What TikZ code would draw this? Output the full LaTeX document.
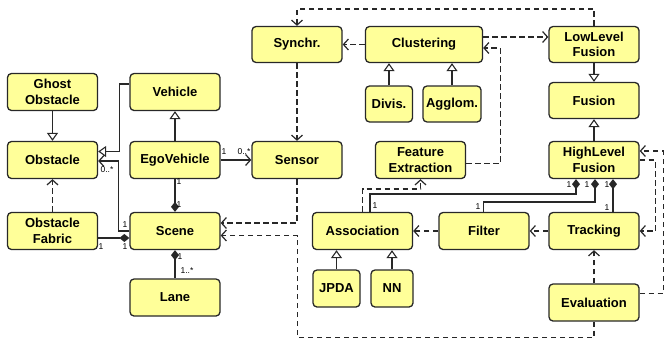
\documentclass[tikz,border=0pt]{standalone}
\usepackage{fontspec}
\setmainfont{Liberation Sans}
\usetikzlibrary{arrows.meta}
\definecolor{boxfill}{RGB}{255,255,153}
\definecolor{boxline}{RGB}{40,40,40}
\begin{document}
\begin{tikzpicture}[x=1pt,y=-1pt,
  cls/.style={draw=boxline, fill=boxfill, line width=1.3pt, rounded corners=4pt, minimum width=90pt, minimum height=37pt, inner sep=0pt, align=center, font=\fontsize{13}{15.5}\selectfont\bfseries},
  inh/.style={line width=1.3pt, draw=boxline, -{Triangle[open,length=8pt,width=11pt,fill=white,line width=1.1pt]}},
  dep/.style={line width=1.3pt, draw=boxline, dash pattern=on 5.5pt off 3.5pt, -{Straight Barb[length=5pt,width=11pt,line width=1.2pt]}},
  asc/.style={line width=1.3pt, draw=boxline, -{Straight Barb[length=5pt,width=11pt,line width=1.2pt]}},
  comp/.style={line width=1.3pt, draw=boxline, {Diamond[length=10pt,width=8pt]}-},
  mult/.style={font=\fontsize{8.5}{9}\selectfont, inner sep=0pt}
]
\useasboundingbox (0,0) rectangle (664,338);
% classes
\node[cls] (ghost) at (52.5,92) {Ghost\\Obstacle};
\node[cls] (obst) at (52.5,160) {Obstacle};
\node[cls] (fabric) at (52.5,231) {Obstacle\\Fabric};
\node[cls] (vehicle) at (175,92) {Vehicle};
\node[cls] (ego) at (175,160) {EgoVehicle};
\node[cls] (scene) at (175,231) {Scene};
\node[cls] (lane) at (175,297.5) {Lane};
\node[cls] (sensor) at (297,160) {Sensor};
\node[cls, minimum height=36pt] (synchr) at (297,44.5) {Synchr.};
\node[cls, minimum width=117pt, minimum height=36pt] (clust) at (424,44.5) {Clustering};
\node[cls, minimum width=47pt, minimum height=36pt] (divis) at (389,104) {Divis.};
\node[cls, minimum width=58pt, minimum height=36pt] (agglom) at (452,104) {Agglom.};
\node[cls] (feat) at (420.5,160) {Feature\\Extraction};
\node[cls, minimum height=36pt] (llf) at (594,44.5) {LowLevel\\Fusion};
\node[cls, minimum height=36pt] (fusion) at (594,100.5) {Fusion};
\node[cls] (hlf) at (594,160) {HighLevel\\Fusion};
\node[cls, minimum width=100pt] (assoc) at (362.5,231) {Association};
\node[cls] (filter) at (484,231) {Filter};
\node[cls] (tracking) at (594,231) {Tracking};
\node[cls, minimum width=47pt] (jpda) at (336.5,288.5) {JPDA};
\node[cls, minimum width=42pt] (nn) at (392,288.5) {NN};
\node[cls] (eval) at (594,302.5) {Evaluation};
% left part
\draw[inh] (ghost.south) -- (obst.north);
\draw[inh] ([yshift=8pt]vehicle.west) -- ++(-10,0) |- ([yshift=8.5pt]obst.east);
\draw[asc] (scene.west) -- ++(-11,0) |- ([yshift=-1pt]obst.east);
\draw[comp] ([yshift=-7pt]scene.west) -- ([yshift=-7pt]scene.west -| fabric.east);
\draw[dep] (fabric.north) -- (obst.south);
\draw[inh] (ego.north) -- (vehicle.south);
\draw[asc] (ego.east) -- (sensor.west);
\draw[comp] (scene.north) -- (ego.south);
\draw[comp] (scene.south) -- (lane.north);
\draw[dep] (sensor.south) |- ([yshift=8pt]scene.east);
\draw[dep] (eval.south) -- ++(0,16) -| ([xshift=77pt,yshift=-4.5pt]scene.east) -- ([yshift=-4.5pt]scene.east);
% top part
\draw[dep] (synchr.south) -- (sensor.north);
\draw[dep] (clust.west) -- (synchr.east);
\draw[inh] (divis.north) -- (divis.north |- clust.south);
\draw[inh] (agglom.north) -- (agglom.north |- clust.south);
\draw[dep] (llf.north) -- ++(0,-17) -| (synchr.north);
\draw[dep] ([yshift=7.5pt]clust.east) -- ([yshift=7.5pt]clust.east -| llf.west);
\draw[dep] ([yshift=-3.5pt]feat.east) -| ([xshift=17pt,yshift=-3.5pt]clust.east) -- ([yshift=-3.5pt]clust.east);
\draw[dep] (assoc.north) -- ++(0,-23) -| (feat.south);
\draw[inh] (llf.south) -- (fusion.north);
\draw[inh] (hlf.north) -- (fusion.south);
% fusion part
\draw[comp] ([xshift=-18pt]hlf.south) |- ([xshift=7.5pt,yshift=18pt]assoc.north) -- ([xshift=7.5pt]assoc.north);
\draw[comp] ([xshift=1pt]hlf.south) |- ([xshift=-0.5pt,yshift=10pt]filter.north) -- ([xshift=-0.5pt]filter.north);
\draw[comp] ([xshift=19pt]hlf.south) -- ([xshift=19pt]tracking.north);
\draw[dep] (tracking.west) -- (filter.east);
\draw[dep] (filter.west) -- (assoc.east);
\draw[inh] (jpda.north) -- (jpda.north |- assoc.south);
\draw[inh] (nn.north) -- (nn.north |- assoc.south);
\draw[dep] (eval.north) -- (tracking.south);
\draw[dep] ([yshift=9pt]eval.east) -- ++(23.5,0) |- ([yshift=9pt]hlf.east);
\draw[dep] (hlf.east) -- ++(16,0) |- (tracking.east);
% multiplicities
\node[mult] (m1) at (107,170) {0..*};
\node[mult] (m2) at (125,225) {1};
\node[mult] (m3) at (101,247) {1};
\node[mult] (m4) at (125,247) {1};
\node[mult] (m5) at (224,152) {1};
\node[mult] (m6) at (244,152) {0..*};
\node[mult] (m7) at (179,182) {1};
\node[mult] (m8) at (179,205) {1};
\node[mult] (m9) at (180,257) {1};
\node[mult] (m10) at (187,271) {1..*};
\node[mult] (m11) at (569,185) {1};
\node[mult] (m12) at (587,185) {1};
\node[mult] (m13) at (607,185) {1};
\node[mult] (m14) at (375,206) {1};
\node[mult] (m15) at (478,207) {1};
\node[mult] (m16) at (607,208) {1};
\end{tikzpicture}
\end{document}
